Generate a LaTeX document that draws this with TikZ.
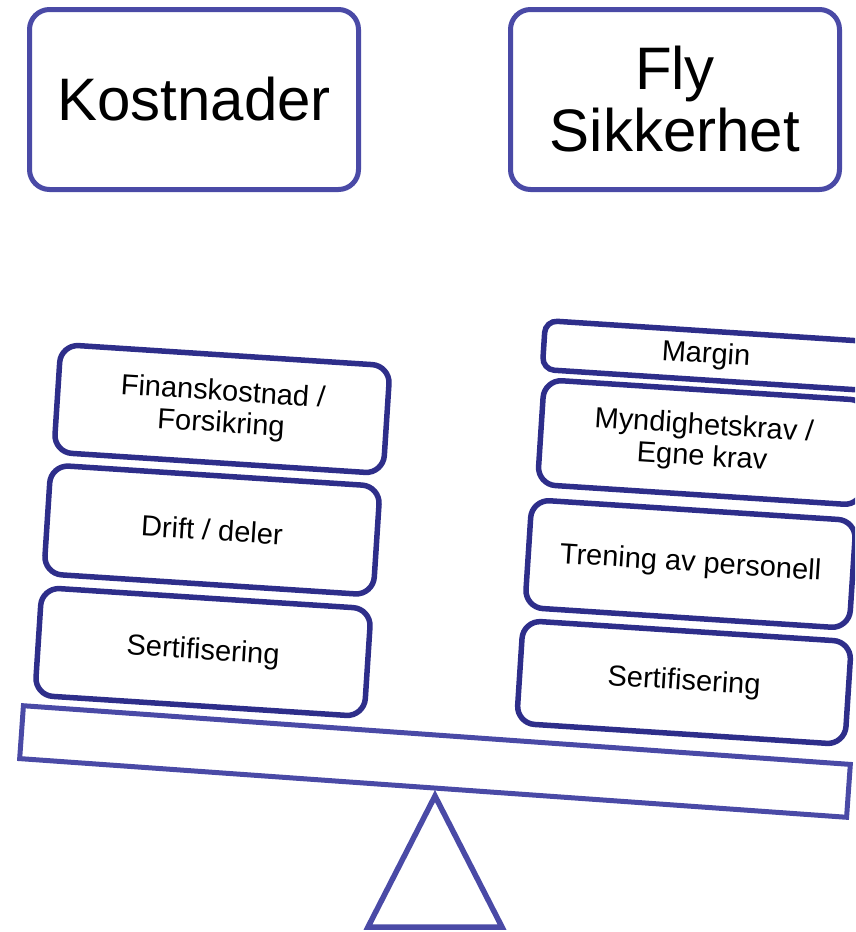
\documentclass[tikz,border=0pt]{standalone}
\usepackage{fontspec}
\setmainfont{Liberation Sans}
\definecolor{frameblue}{HTML}{4A4AA6}
\definecolor{stacknavy}{HTML}{2E2E8A}
\begin{document}
\begin{tikzpicture}[x=1pt,y=-1pt,
  titlebox/.style={draw=frameblue, line width=5pt, fill=white, rounded corners=20pt,
    minimum width=329pt, minimum height=180pt, inner sep=0pt, align=center,
    font=\fontsize{60}{62}\selectfont},
  stackbox/.style={draw=stacknavy, line width=5.5pt, fill=white, rounded corners=18pt,
    inner sep=0pt, align=center, rotate=-3.7,
    font=\fontsize{29}{31.5}\selectfont},
  beambox/.style={draw=frameblue, line width=5pt, fill=white, rotate=-4.06,
    minimum width=829pt, minimum height=53pt, inner sep=0pt},
  fulcrum/.style={draw=frameblue, line width=5.5pt, fill=white, line join=miter}
]
\useasboundingbox (0,0) rectangle (855,932);
\clip (0,0) rectangle (855,932);

% title boxes
\node[titlebox] (kost) at (194,99.5) {Kostnader};
\node[titlebox] (fly) at (675,99.5) {Fly\\Sikkerhet};

% fulcrum
\coordinate (apex) at (435,796);
\coordinate (baseL) at (368,927);
\coordinate (baseR) at (502,927);
\draw[fulcrum] (apex) -- (baseL) -- (baseR) -- cycle;

% beam
\node[beambox] (beam) at (435,761.5) {};

% left stack
\node[stackbox, minimum width=330pt, minimum height=108pt] (lsert) at (203,652) {Sertifisering};
\node[stackbox, minimum width=330pt, minimum height=109pt] (ldrift) at (212,530) {Drift / deler};
\node[stackbox, minimum width=330pt, minimum height=108pt] (lfin) at (222,409) {Finanskostnad /\\Forsikring};

% right stack
\node[stackbox, minimum width=329pt, minimum height=103pt] (rsert) at (684,682.5) {Sertifisering};
\node[stackbox, minimum width=325pt, minimum height=108pt] (rtren) at (690.5,564) {Trening av personell};
\node[stackbox, minimum width=325pt, minimum height=105pt] (rmynd) at (703,442.5) {Myndighetskrav /\\Egne krav};
\node[stackbox, minimum width=325pt, minimum height=49pt, rounded corners=12pt] (rmarg) at (706,355.5) {Margin};
\end{tikzpicture}
\end{document}
